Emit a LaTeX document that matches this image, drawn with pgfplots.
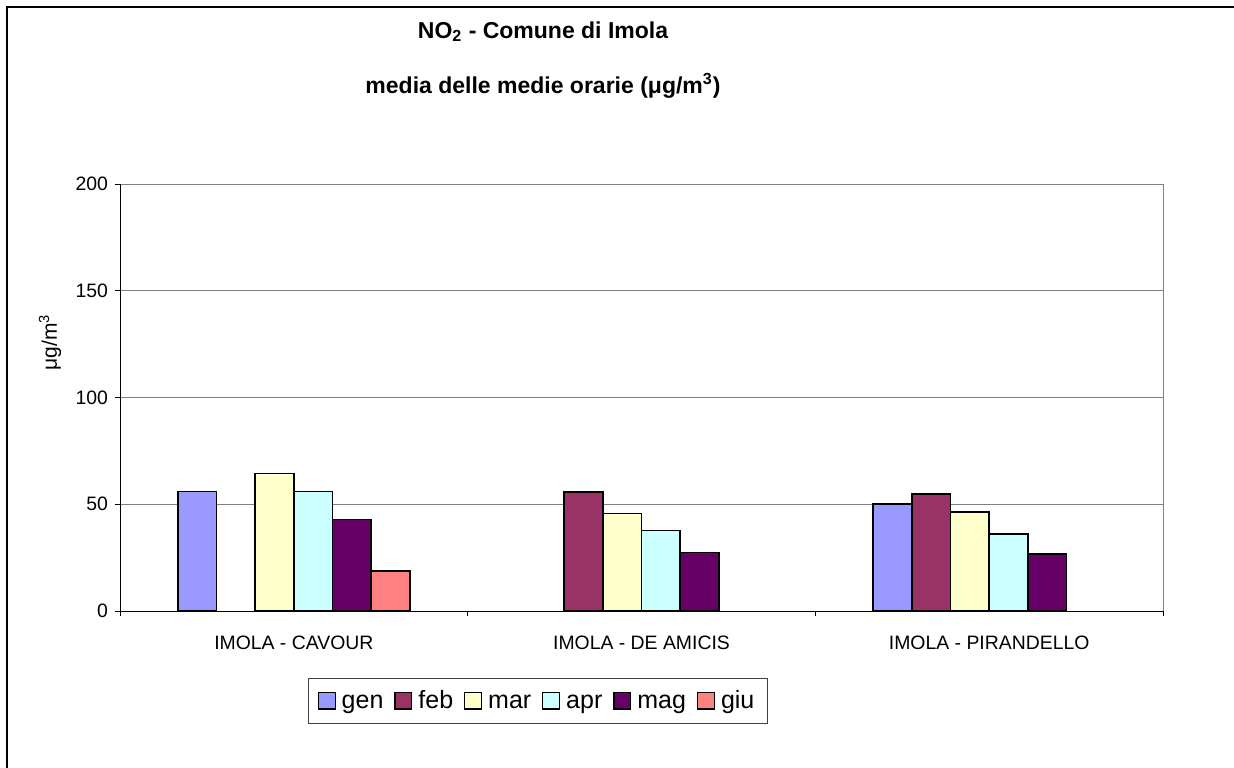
\documentclass[border=0pt]{standalone}
\usepackage{fontspec}
\setmainfont{Liberation Sans}
\usepackage{pgfplots}
\pgfplotsset{compat=1.18}

\definecolor{cgen}{HTML}{9999FF}
\definecolor{cfeb}{HTML}{993366}
\definecolor{cmar}{HTML}{FFFFCC}
\definecolor{capr}{HTML}{CCFFFF}
\definecolor{cmag}{HTML}{660066}
\definecolor{cgiu}{HTML}{FF8080}

\begin{document}
\begin{tikzpicture}
% page: 1234x767 px at 0.5pt per px, axis box lower-left at (0,0)
\useasboundingbox (-60pt,-78pt) rectangle (557pt,305.5pt);
\draw[line width=0.6pt] (-56.5pt,-120pt) -- (-56.5pt,302pt) -- (620pt,302pt);

\node[anchor=base, font=\fontsize{11.5}{13}\selectfont\bfseries] at (211.5pt,286.4pt)
  {NO\textsubscript{2} - Comune di Imola};
\node[anchor=base, font=\fontsize{11.5}{13}\selectfont\bfseries] at (211.5pt,259pt)
  {media delle medie orarie (μg/m\textsuperscript{3})};

\begin{axis}[
    scale only axis,
    width=521.5pt, height=213.5pt,
    clip=false,
    ybar=0pt,
    bar width=19.35pt,
    xmin=-0.5, xmax=2.5,
    ymin=0, ymax=200,
    ytick={0,50,...,200},
    xtick={0,1,2},
    xticklabels={IMOLA - CAVOUR, IMOLA - DE AMICIS, IMOLA - PIRANDELLO},
    minor xtick={-0.5,0.5,1.5,2.5},
    major x tick style={draw=none},
    tick align=outside,
    major tick length=2.5pt,
    minor tick length=2.5pt,
    axis lines*=left,
    axis line style={black, line width=0.5pt, -},
    ymajorgrids,
    grid style={gray, line width=0.5pt},
    tick style={black, line width=0.5pt},
    /pgf/number format/assume math mode=true,
    ticklabel style={font=\fontsize{9.7}{11}\selectfont},
    xticklabel style={anchor=base, yshift=-16.5pt},
    legend columns=-1,
    legend style={at={(0.4008,-0.210)}, anchor=center,
        draw=darkgray, line width=0.6pt,
        inner xsep=4.5pt, inner ysep=4pt,
        font=\fontsize{12.5}{14}\selectfont,
        cells={anchor=base west, inner sep=0pt},
        /tikz/every odd column/.append style={column sep=1pt},
        /tikz/every even column/.append style={column sep=3.5pt}},
    legend image code/.code={\draw[#1, line width=0.6pt] (0pt,-0.4pt) rectangle (8.4pt,8pt);},
    every axis plot/.append style={draw=black, line width=0.8pt},
    ]
\addplot[fill=cgen] coordinates {(0,55.9) (2,50.1)};
\addplot[fill=cfeb] coordinates {(1,55.7) (2,54.9)};
\addplot[fill=cmar] coordinates {(0,64.5) (1,45.6) (2,46.4)};
\addplot[fill=capr] coordinates {(0,55.9) (1,37.8) (2,36.1)};
\addplot[fill=cmag] coordinates {(0,42.9) (1,27.5) (2,26.6)};
\addplot[fill=cgiu] coordinates {(0,18.7)};
\legend{gen, feb, mar, apr, mag, giu}
\draw[gray, line width=0.5pt] (rel axis cs:1,0) -- (rel axis cs:1,1);
\node[rotate=90, font=\fontsize{10.5}{12}\selectfont] at (rel axis cs:-0.0671,0.629) {μg/m\textsuperscript{3}};
\end{axis}
\end{tikzpicture}
\end{document}
